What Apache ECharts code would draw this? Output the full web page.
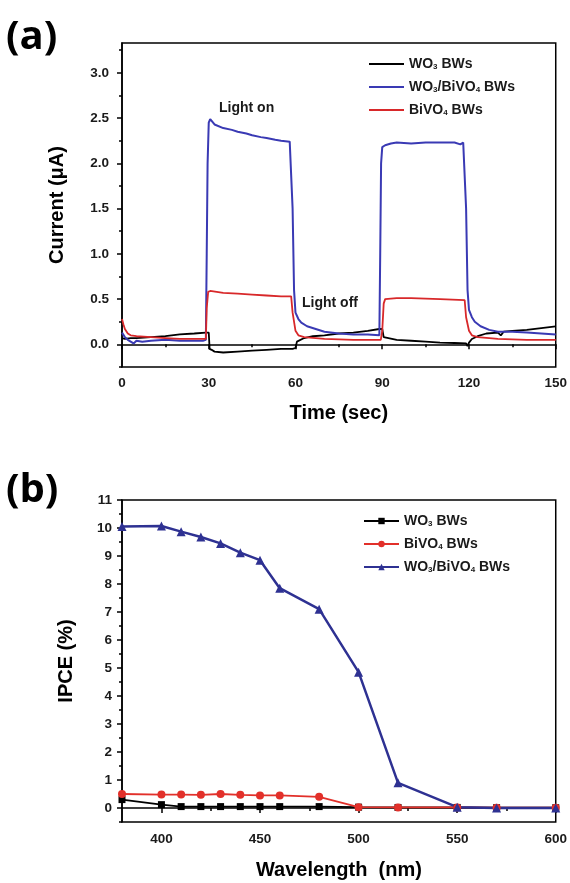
<!DOCTYPE html>
<html>
<head>
<meta charset="utf-8">
<script src="https://cdn.jsdelivr.net/npm/echarts@6/dist/echarts.min.js"></script>
<style>html,body{margin:0;padding:0;background:#fff}#c{width:570px;height:883px}</style>
</head>
<body>
<div id="c"></div>
<script>
// ---------- Panel (a): transient photocurrent ----------
var timeWO3 = [0,1,3,5,10,15,20,25,29,29.5,30,30.3,31,32,35,40,45,50,55,59,60,60.5,61,63,66,70,75,80,85,89,89.5,90,90.5,91,95,100,105,110,115,119,119.5,120,121,123,126,130,131,132,135,140,145,150];
var valWO3  = [0.07,0.06,0.07,0.07,0.08,0.09,0.11,0.12,0.13,0.15,0.13,-0.05,-0.06,-0.08,-0.09,-0.08,-0.07,-0.06,-0.05,-0.05,-0.04,0.03,0.05,0.07,0.09,0.10,0.12,0.13,0.15,0.17,0.19,0.17,0.08,0.06,0.05,0.04,0.03,0.02,0.015,0.01,-0.02,0.02,0.06,0.09,0.12,0.13,0.10,0.14,0.15,0.16,0.18,0.20];

var timeHet = [0,1,2,3,4,5,7,10,15,20,25,28,29,29.3,29.6,30,30.5,31,32,35,38,40,43,45,48,50,53,55,58,58.5,59,59.5,60,61,62,64,67,70,75,80,85,89,89.3,89.6,90,91,93,95,100,105,110,115,117,118,118.5,119,119.5,120,121,122,124,127,130,135,140,145,150];
var valHet  = [0.13,0.08,0.05,0.03,0.01,0.04,0.03,0.04,0.05,0.04,0.04,0.04,0.05,1.0,2.0,2.45,2.49,2.47,2.43,2.39,2.37,2.35,2.33,2.31,2.29,2.28,2.26,2.25,2.24,2.25,1.5,0.6,0.35,0.28,0.24,0.20,0.17,0.14,0.12,0.11,0.11,0.10,1.0,2.0,2.18,2.20,2.22,2.23,2.22,2.23,2.23,2.23,2.21,2.23,2.23,1.5,0.6,0.38,0.30,0.25,0.20,0.16,0.14,0.14,0.13,0.12,0.11];

var timeBiV = [0,0.5,1,2,3,5,10,15,20,25,29,29.3,29.8,30.5,35,40,45,50,55,58.5,59,60,61,63,70,80,89.5,90,90.5,91,95,100,110,118.5,119,120,121,123,130,140,150];
var valBiV  = [0.28,0.22,0.17,0.12,0.10,0.09,0.08,0.07,0.06,0.06,0.06,0.40,0.58,0.59,0.57,0.56,0.55,0.54,0.53,0.53,0.35,0.15,0.10,0.08,0.06,0.05,0.05,0.15,0.45,0.50,0.51,0.51,0.50,0.49,0.30,0.15,0.10,0.08,0.06,0.05,0.05];

var aYLabels = [0,0.5,1.0,1.5,2.0,2.5,3.0];
var aYMinor  = [-0.25,0.25,0.75,1.25,1.75,2.25,2.75,3.25];
var aXLabels = [0,30,60,90,120,150];
var aXMinor  = [15,45,75,105,135];

// ---------- Panel (b): IPCE ----------
var wavelength = [380,400,410,420,430,440,450,460,480,500,520,550,570,600];
var ipceWO3    = [0.30,0.12,0.05,0.05,0.05,0.05,0.05,0.05,0.05,0.03,0.02,0.02,0.01,0.01];
var ipceBiVO4  = [0.50,0.48,0.48,0.47,0.50,0.47,0.45,0.45,0.40,0.03,0.02,0.02,0.01,0.01];
var ipceHet    = [10.05,10.07,9.87,9.68,9.45,9.12,8.85,7.85,7.10,4.85,0.90,0.03,0.00,0.00];

var bYLabels = [0,1,2,3,4,5,6,7,8,9,10,11];
var bYMinor  = [-0.5,0.5,1.5,2.5,3.5,4.5,5.5,6.5,7.5,8.5,9.5,10.5];
var bXLabels = [400,450,500,550,600];
var bXMinor  = [425,475,525,575];

function zip(a,b){var r=[];for(var i=0;i<a.length;i++)r.push([a[i],b[i]]);return r;}

var FONT = 'Liberation Sans, Arial, sans-serif';
var BLACK = '#000';
var BLUE_A = '#3a3ab4', RED_A = '#d8282a';
var BLUE_B = '#2e3192', RED_B = '#e2302a';

var displayNames = {
  'a1':'WO{s|3} BWs', 'a2':'WO{s|3}/BiVO{s|4} BWs', 'a3':'BiVO{s|4} BWs',
  'b1':'WO{s|3} BWs', 'b2':'BiVO{s|4} BWs', 'b3':'WO{s|3}/BiVO{s|4} BWs'
};
var legendText = {
  fontFamily: FONT, fontWeight:'bold', fontSize:14, color:'#1a1a1a',
  rich:{ s:{fontFamily:FONT, fontWeight:'bold', fontSize:8, color:'#1a1a1a', padding:[5,0,0,0]} }
};

function valueAxis(gi, min, max, labels, minor, pos, margin, name, nameGap, fmt){
  var major = {
    type:'value', gridIndex:gi, min:min, max:max, position:pos,
    axisLine:{show:true, lineStyle:{color:BLACK, width:1.5}},
    axisTick:{show:true, inside:false, length:5, customValues:labels, lineStyle:{color:BLACK,width:1.5}},
    axisLabel:{show:true, customValues:labels, margin:margin, fontFamily:FONT, fontWeight:'bold', fontSize:13.5, color:'#1a1a1a', formatter:fmt},
    splitLine:{show:false},
    name:name, nameLocation:'middle', nameGap:nameGap,
    nameTextStyle:{fontFamily:FONT, fontWeight:'bold', fontSize:20, color:BLACK}
  };
  var mn = {
    type:'value', gridIndex:gi, min:min, max:max, position:pos,
    axisLine:{show:false},
    axisTick:{show:true, inside:false, length:3, customValues:minor, lineStyle:{color:BLACK,width:1.5}},
    axisLabel:{show:false}, splitLine:{show:false}
  };
  return [major, mn];
}

var xA = valueAxis(0, 0, 150, aXLabels, aXMinor, 'bottom', 9, 'Time (sec)', 36, function(v){return String(v);});
var yA = valueAxis(0, -0.25, 3.33, aYLabels, aYMinor, 'left', 13, 'Current (\u03bcA)', 55, function(v){return v.toFixed(1);});
var xB = valueAxis(1, 380, 600, bXLabels, bXMinor, 'bottom', 10, 'Wavelength  (nm)', 38, function(v){return String(v);});
var yB = valueAxis(1, -0.5, 11, bYLabels, bYMinor, 'left', 10, 'IPCE (%)', 46, function(v){return String(v);});

var option = {
  animation:false,
  backgroundColor:'#fff',
  grid:[
    {left:122, right:13, top:43, height:324, show:true, borderColor:BLACK, borderWidth:1.5},
    {left:122, right:13, top:500, height:322, show:true, borderColor:BLACK, borderWidth:1.5}
  ],
  xAxis:[xA[0], xA[1], xB[0], xB[1]],
  yAxis:[yA[0], yA[1], yB[0], yB[1]],
  legend:[
    {orient:'vertical', left:363, top:52, itemWidth:35, itemHeight:14, itemGap:9,
     itemStyle:{opacity:0}, lineStyle:{width:2},
     data:['a1','a2','a3'], formatter:function(n){return displayNames[n];}, textStyle:legendText},
    {orient:'vertical', left:358, top:509, itemWidth:35, itemHeight:8, itemGap:9,
     data:['b1','b2','b3'], formatter:function(n){return displayNames[n];}, textStyle:legendText}
  ],
  graphic:[
    {type:'text', left:6, top:18, style:{text:'(a)', font:'bold 40px "Open Sans", '+FONT, fill:'#000'}},
    {type:'text', left:6, top:471, style:{text:'(b)', font:'bold 40px "Open Sans", '+FONT, fill:'#000'}},
    {type:'text', left:219, top:101, style:{text:'Light on', font:'bold 14px '+FONT, fill:'#1a1a1a'}},
    {type:'text', left:302, top:296, style:{text:'Light off', font:'bold 14px '+FONT, fill:'#1a1a1a'}}
  ],
  series:[
    {name:'a1', type:'line', xAxisIndex:0, yAxisIndex:0, data:zip(timeWO3,valWO3), showSymbol:false, symbol:'none', lineStyle:{color:BLACK,width:1.8}, itemStyle:{color:BLACK}},
    {name:'a2', type:'line', xAxisIndex:0, yAxisIndex:0, data:zip(timeHet,valHet), showSymbol:false, symbol:'none', lineStyle:{color:BLUE_A,width:2}, itemStyle:{color:BLUE_A}},
    {name:'a3', type:'line', xAxisIndex:0, yAxisIndex:0, data:zip(timeBiV,valBiV), showSymbol:false, symbol:'none', lineStyle:{color:RED_A,width:1.8}, itemStyle:{color:RED_A}},
    {name:'b1', type:'line', xAxisIndex:2, yAxisIndex:2, data:zip(wavelength,ipceWO3), symbol:'rect', symbolSize:7, lineStyle:{color:BLACK,width:1.8}, itemStyle:{color:BLACK}},
    {name:'b2', type:'line', xAxisIndex:2, yAxisIndex:2, data:zip(wavelength,ipceBiVO4), symbol:'circle', symbolSize:8, lineStyle:{color:RED_B,width:1.8}, itemStyle:{color:RED_B}},
    {name:'b3', type:'line', xAxisIndex:2, yAxisIndex:2, data:zip(wavelength,ipceHet), symbol:'triangle', symbolSize:9, lineStyle:{color:BLUE_B,width:2.5}, itemStyle:{color:BLUE_B}}
  ]
};
var chart = echarts.init(document.getElementById('c'));
chart.setOption(option);
</script>
</body>
</html>
